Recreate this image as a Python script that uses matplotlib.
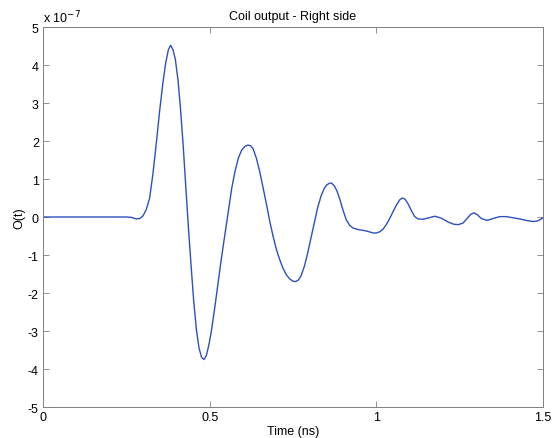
import numpy as np
import matplotlib
matplotlib.use("Agg")
import matplotlib.pyplot as plt

plt.rcParams['font.family'] = ['Liberation Sans', 'DejaVu Sans']

# time in ns, output in units of 1e-7
t = [0.000, 0.250, 0.265, 0.280, 0.290, 0.300, 0.310, 0.320, 0.330, 0.340,
     0.350, 0.360, 0.368, 0.376, 0.383, 0.390, 0.397, 0.405, 0.412, 0.420,
     0.428, 0.436, 0.444, 0.452, 0.460, 0.468, 0.476, 0.483, 0.490, 0.498,
     0.506, 0.515, 0.525, 0.535, 0.545, 0.556, 0.566, 0.576, 0.586, 0.596,
     0.606, 0.614, 0.622, 0.630, 0.640, 0.650, 0.660, 0.670, 0.680, 0.690,
     0.700, 0.710, 0.720, 0.730, 0.740, 0.750, 0.758, 0.766, 0.774, 0.784,
     0.794, 0.804, 0.814, 0.824, 0.834, 0.844, 0.852, 0.860, 0.866, 0.874,
     0.882, 0.890, 0.900, 0.910, 0.920, 0.930, 0.945, 0.960, 0.975, 0.990,
     1.000, 1.010, 1.020, 1.030, 1.040, 1.050, 1.060, 1.070, 1.078, 1.086,
     1.095, 1.105, 1.115, 1.125, 1.140, 1.158, 1.176, 1.195, 1.215, 1.232,
     1.246, 1.260, 1.272, 1.283, 1.293, 1.303, 1.315, 1.332, 1.350, 1.370,
     1.390, 1.410, 1.430, 1.450, 1.470, 1.485, 1.500]
o = [0.00, 0.00, -0.01, -0.05, -0.04, 0.03, 0.20, 0.50, 1.15, 1.95,
     2.80, 3.55, 4.05, 4.40, 4.52, 4.40, 4.15, 3.60, 2.90, 1.95,
     0.85, -0.25, -1.25, -2.20, -2.95, -3.45, -3.70, -3.75, -3.65, -3.35,
     -2.95, -2.40, -1.75, -1.10, -0.50, 0.15, 0.75, 1.20, 1.55, 1.76,
     1.86, 1.89, 1.88, 1.80, 1.55, 1.20, 0.78, 0.35, -0.10, -0.50,
     -0.85, -1.12, -1.35, -1.52, -1.63, -1.69, -1.70, -1.66, -1.55, -1.30,
     -0.95, -0.55, -0.15, 0.25, 0.55, 0.76, 0.85, 0.89, 0.89, 0.82,
     0.68, 0.48, 0.18, -0.08, -0.22, -0.29, -0.33, -0.35, -0.38, -0.42,
     -0.42, -0.39, -0.32, -0.20, -0.04, 0.14, 0.31, 0.45, 0.50, 0.47,
     0.35, 0.17, 0.01, -0.05, -0.06, -0.02, 0.02, -0.03, -0.13, -0.19,
     -0.20, -0.16, -0.04, 0.07, 0.11, 0.06, -0.04, -0.09, -0.04, 0.01,
     0.01, -0.02, -0.05, -0.09, -0.12, -0.10, -0.02]

xticks = [0, 0.5, 1, 1.5]
xticklabels = ["0", "0.5", "1", "1.5"]
yticks = list(range(-5, 6))

fig = plt.figure(figsize=(5.57, 4.39), dpi=100)
ax = fig.add_axes([0.0772, 0.0706, 0.8977, 0.8656])

ax.plot(t, np.array(o) * 1e-7, color="#2e4fbf", lw=1.0)

ax.set_xlim(0, 1.5)
ax.set_ylim(-5e-7, 5e-7)
ax.set_xticks(xticks)
ax.set_xticklabels(xticklabels)
ax.set_yticks([v * 1e-7 for v in yticks])
ax.set_yticklabels([str(v) for v in yticks])

ax.tick_params(direction="in", length=4, width=0.6, color="#808080",
               labelsize=9, top=True, right=True, pad=3)
for s in ax.spines.values():
    s.set_color("#808080")
    s.set_linewidth(0.7)

ax.set_title("Coil output - Right side", fontsize=9, pad=6)
ax.set_xlabel("Time (ns)", fontsize=9, labelpad=1)
ax.set_ylabel("O(t)", fontsize=9, labelpad=2)
ax.text(0.0, 1.005, r"x 10$^{-7}$", transform=ax.transAxes, fontsize=9,
        ha="left", va="bottom")

fig.savefig("out.png", dpi=100)
